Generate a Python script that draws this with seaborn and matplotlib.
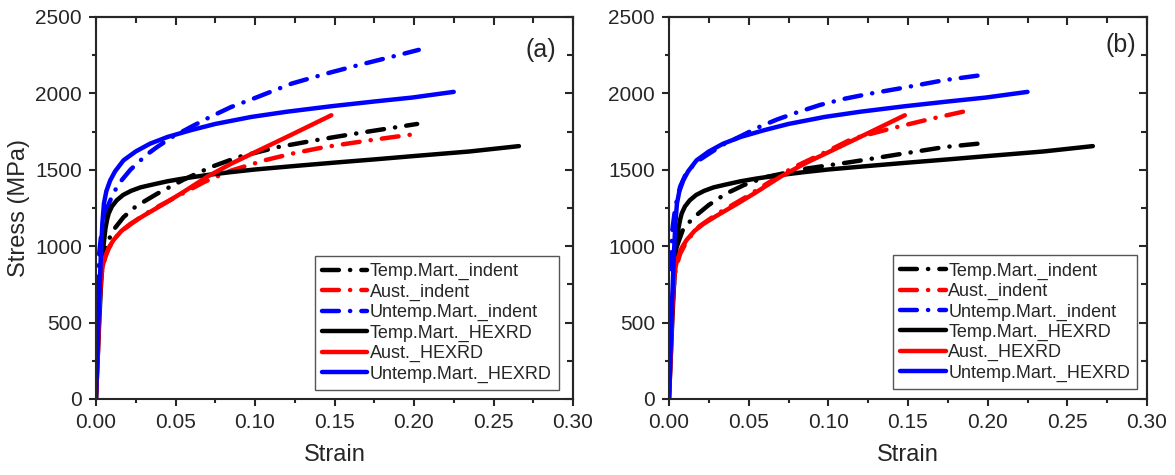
import numpy as np
import pandas as pd
import matplotlib
matplotlib.use("Agg")
import matplotlib.pyplot as plt
from matplotlib.ticker import MultipleLocator, FormatStrFormatter
import seaborn as sns

# ---------------- data ----------------
labels = ["Temp.Mart._indent", "Aust._indent", "Untemp.Mart._indent",
          "Temp.Mart._HEXRD", "Aust._HEXRD", "Untemp.Mart._HEXRD"]
colors = ["#000000", "#ff0000", "#0000ff", "#000000", "#ff0000", "#0000ff"]

# HEXRD curves (identical in both panels)
temp_hexrd_strain = [0, 0.001, 0.002, 0.003, 0.004, 0.005, 0.006, 0.007, 0.008, 0.010,
                     0.013, 0.017, 0.022, 0.028, 0.035, 0.045, 0.055, 0.07, 0.085, 0.1,
                     0.125, 0.15, 0.175, 0.2, 0.235, 0.266]
temp_hexrd_stress = [0, 250, 500, 720, 900, 1030, 1120, 1175, 1215, 1260,
                     1300, 1335, 1362, 1385, 1402, 1425, 1443, 1466, 1485, 1502,
                     1525, 1547, 1568, 1590, 1620, 1655]

aust_hexrd_strain = [0, 0.0012, 0.0022, 0.003, 0.004, 0.005, 0.0065, 0.008, 0.011, 0.016,
                     0.0216, 0.03, 0.0427, 0.055, 0.07, 0.085, 0.1, 0.123, 0.148]
aust_hexrd_stress = [0, 300, 600, 760, 860, 905, 950, 990, 1040, 1100,
                     1146, 1200, 1277, 1355, 1455, 1540, 1615, 1730, 1857]

untemp_hexrd_strain = [0, 0.001, 0.002, 0.003, 0.004, 0.005, 0.0065, 0.0089, 0.012, 0.0173,
                       0.025, 0.034, 0.045, 0.0596, 0.075, 0.0977, 0.12, 0.148, 0.175,
                       0.199, 0.225]
untemp_hexrd_stress = [0, 330, 650, 930, 1150, 1280, 1360, 1430, 1490, 1562,
                       1620, 1671, 1715, 1759, 1800, 1846, 1880, 1916, 1947,
                       1973, 2010]

# indentation curves, panel (a)
a_temp_ind_strain = [0.004, 0.006, 0.0078, 0.012, 0.0173, 0.025, 0.0384, 0.055, 0.0723,
                     0.09, 0.1146, 0.14, 0.165, 0.202]
a_temp_ind_stress = [880, 980, 1040, 1120, 1190, 1260, 1343, 1435, 1518,
                     1585, 1649, 1697, 1740, 1800]

a_aust_ind_strain = [0.002, 0.004, 0.006, 0.008, 0.011, 0.015, 0.022, 0.03, 0.04, 0.05,
                     0.068, 0.085, 0.106, 0.125, 0.144, 0.172, 0.198]
a_aust_ind_stress = [650, 850, 935, 985, 1040, 1090, 1145, 1205, 1265, 1320,
                     1420, 1495, 1562, 1610, 1649, 1693, 1730]

a_untemp_ind_strain = [0.0004, 0.001, 0.002, 0.003, 0.0046, 0.007, 0.011, 0.016, 0.0216,
                       0.032, 0.0384, 0.048, 0.0596, 0.072, 0.085, 0.1, 0.123, 0.145,
                       0.165, 0.185, 0.203]
a_untemp_ind_stress = [690, 800, 950, 1050, 1150, 1250, 1350, 1430, 1500,
                       1600, 1649, 1715, 1780, 1847, 1911, 1970, 2064, 2130,
                       2185, 2237, 2285]

# indentation curves, panel (b)
b_temp_ind_strain = [0.005, 0.0085, 0.012, 0.017, 0.025, 0.0356, 0.047, 0.0606, 0.0856,
                     0.115, 0.144, 0.173, 0.1998]
b_temp_ind_stress = [1000, 1102, 1150, 1201, 1270, 1343, 1400, 1452, 1507,
                     1552, 1601, 1649, 1677]

b_aust_ind_strain = [0.002, 0.0044, 0.007, 0.01, 0.014, 0.019, 0.03, 0.048, 0.06, 0.077,
                     0.1, 0.115, 0.14, 0.165, 0.191]
b_aust_ind_stress = [650, 862, 950, 1010, 1070, 1130, 1210, 1320, 1400, 1510,
                     1625, 1703, 1772, 1835, 1895]

b_untemp_ind_strain = [0.001, 0.002, 0.004, 0.007, 0.0106, 0.017, 0.025, 0.034, 0.044,
                       0.0565, 0.068, 0.081, 0.095, 0.1106, 0.127, 0.144, 0.173, 0.2]
b_untemp_ind_stress = [850, 1100, 1260, 1390, 1474, 1550, 1605, 1665, 1715,
                       1780, 1830, 1878, 1925, 1966, 2000, 2031, 2087, 2125]

panel_a = [(a_temp_ind_strain, a_temp_ind_stress), (a_aust_ind_strain, a_aust_ind_stress),
           (a_untemp_ind_strain, a_untemp_ind_stress),
           (temp_hexrd_strain, temp_hexrd_stress), (aust_hexrd_strain, aust_hexrd_stress),
           (untemp_hexrd_strain, untemp_hexrd_stress)]
panel_b = [(b_temp_ind_strain, b_temp_ind_stress), (b_aust_ind_strain, b_aust_ind_stress),
           (b_untemp_ind_strain, b_untemp_ind_stress),
           (temp_hexrd_strain, temp_hexrd_stress), (aust_hexrd_strain, aust_hexrd_stress),
           (untemp_hexrd_strain, untemp_hexrd_stress)]

# ---------------- style ----------------
sns.set_style("ticks")
plt.rcParams['font.family'] = ['Liberation Sans', 'DejaVu Sans']
plt.rcParams['axes.linewidth'] = 1.5

fig = plt.figure(figsize=(11.75, 4.75), dpi=100)
ax_a = fig.add_axes([96 / 1175, 76 / 475, 477 / 1175, 382 / 475])
ax_b = fig.add_axes([669 / 1175, 76 / 475, 478 / 1175, 382 / 475])

LW = 3.2
dashdot = (0, (3.8, 2.5, 0.05, 2.5))
styles = [dashdot, dashdot, dashdot, "-", "-", "-"]


def draw(ax, series, tag, legend_anchor, ylabel):
    for (xs, ys), lab, col, ls in zip(series, labels, colors, styles):
        df = pd.DataFrame({"Strain": xs, "Stress": ys})
        sns.lineplot(data=df, x="Strain", y="Stress", ax=ax, color=col, linewidth=LW,
                     linestyle=ls, label=lab, sort=False, estimator=None,
                     dash_capstyle="round", solid_capstyle="round",
                     solid_joinstyle="round")
    ax.set_xlim(0, 0.30)
    ax.set_ylim(0, 2500)
    ax.xaxis.set_major_locator(MultipleLocator(0.05))
    ax.xaxis.set_minor_locator(MultipleLocator(0.025))
    ax.yaxis.set_major_locator(MultipleLocator(500))
    ax.yaxis.set_minor_locator(MultipleLocator(250))
    ax.xaxis.set_major_formatter(FormatStrFormatter("%.2f"))
    ax.tick_params(which="major", direction="out", length=5, width=1.5, labelsize=15,
                   pad=5)
    ax.tick_params(which="minor", direction="out", length=3, width=1.5)
    for side in ["top", "right", "left", "bottom"]:
        ax.spines[side].set_visible(True)
        ax.spines[side].set_linewidth(1.5)
    secx = ax.secondary_xaxis("top")
    secx.xaxis.set_major_locator(MultipleLocator(0.05))
    secx.xaxis.set_minor_locator(MultipleLocator(0.025))
    secx.tick_params(which="major", direction="in", length=6, width=1.5, labeltop=False)
    secx.tick_params(which="minor", direction="in", length=4, width=1.5)
    secy = ax.secondary_yaxis("right")
    secy.yaxis.set_major_locator(MultipleLocator(500))
    secy.yaxis.set_minor_locator(MultipleLocator(250))
    secy.tick_params(which="major", direction="in", length=6, width=1.5, labelright=False)
    secy.tick_params(which="minor", direction="in", length=4, width=1.5)
    ax.set_xlabel("Strain", fontsize=17, labelpad=9)
    ax.set_ylabel(ylabel, fontsize=17, labelpad=4)
    ax.text(*tag[1], tag[0], transform=ax.transAxes, fontsize=18, ha="center", va="center")
    leg = ax.legend(loc="lower right", bbox_to_anchor=legend_anchor, fontsize=13,
                    frameon=True, fancybox=False, framealpha=1, edgecolor="#555555",
                    handlelength=2.5, handletextpad=0.15, labelspacing=0.18,
                    borderpad=0.4, borderaxespad=0)
    leg.get_frame().set_linewidth(1.0)


draw(ax_a, panel_a, ("(a)", (0.933, 0.914)), (0.971, 0.024), "Stress (MPa)")
draw(ax_b, panel_b, ("(b)", (0.946, 0.927)), (0.98, 0.026), "")

fig.savefig("out.png", dpi=100)
